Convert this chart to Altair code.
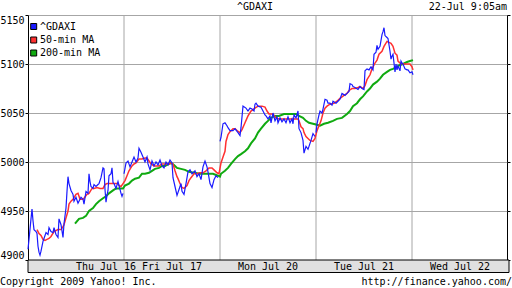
import altair as alt
import pandas as pd

# ---------------- data (bar index = 5-minute slot, 96 slots per trading day) --------------
blue_bar = [0, 1, 3, 4, 5, 6, 8, 9, 10, 11, 12, 13, 15, 16, 18, 20, 21, 23, 25, 26, 28, 30, 31, 33, 35, 36,
            38, 39, 40, 41, 43, 45, 46, 48, 50, 51, 53, 55, 56, 58, 60, 61, 62, 63, 65, 66, 68, 70, 71, 73,
            75, 76, 77, 78, 79, 80, 81, 83, 84, 85, 86, 88, 90, 91, 93, 94, 95,
            96, 98, 100, 102, 104, 106, 108, 110, 111, 112, 113, 115, 117, 119, 120, 122, 124, 126, 128,
            130, 132, 134, 136, 138, 140, 142, 144, 145, 147, 149, 151, 153, 154, 156, 158, 160, 162, 164,
            167, 169, 171, 173, 175, 177, 179, 180, 182, 184, 186, 188, 190,
            192, 193, 195, 197, 199, 200, 202, 205, 207, 210, 212, 213, 215, 218, 220, 222, 224, 226, 227,
            228, 230, 233, 235, 237, 238, 240, 242, 243, 245, 247, 249, 250, 252, 254, 256, 258, 260, 262,
            264, 265, 266, 268, 270, 271, 273, 275, 276, 278, 280, 281, 283, 285, 287,
            288, 289, 291, 292, 294, 295, 297, 299, 300, 302, 304, 305, 308, 310, 312, 314, 317, 319, 321,
            322, 324, 325, 327, 330, 332, 334, 336, 337, 339, 341, 343, 345, 346, 348, 349, 350, 352, 354,
            355, 356, 357, 359, 360, 362, 363, 364, 365, 367, 368, 369, 370, 372, 373, 374, 375, 377, 379,
            380, 382, 384, 385]
blue_val = [4911, 4921, 4942, 4952, 4940, 4931, 4929, 4927, 4914, 4908, 4905, 4909, 4919, 4922, 4928, 4926,
            4933, 4929, 4928, 4933, 4926, 4923, 4942, 4936, 4923, 4937, 4953, 4970, 4985, 4978, 4971, 4967,
            4960, 4964, 4958, 4960, 4964, 4962, 4957, 4970, 4968, 4988, 4980, 4975, 4973, 4977, 4975, 4977,
            4978, 4984, 4994, 4993, 4972, 4959, 4966, 4971, 4986, 4988, 4994, 4979, 4978, 4973, 4980, 4976,
            4968, 4965, 4968,
            4988, 4999, 5001, 4995, 5000, 5005, 5000, 5004, 5014, 5012, 5010, 5005, 5000, 5005, 4998, 4992,
            5001, 4996, 5000, 4997, 5002, 4996, 4994, 5000, 4997, 5002, 4999, 4984, 4975, 4966, 4972, 4978,
            4970, 4967, 4978, 4990, 4992, 4988, 4991, 4985, 4988, 4982, 4995, 5001, 4995, 4990, 4978, 4974,
            4982, 4986, 4984,
            5021, 5025, 5039, 5040, 5037, 5035, 5032, 5032, 5034, 5030, 5027, 5035, 5057, 5055, 5052, 5055,
            5054, 5052, 5059, 5060, 5057, 5056, 5052, 5048, 5047, 5044, 5047, 5040, 5050, 5042, 5046, 5040,
            5045, 5041, 5044, 5040, 5046, 5040, 5044, 5039, 5048, 5045, 5052, 5034, 5030, 5022, 5009, 5016,
            5013, 5016, 5022, 5029, 5026,
            5030, 5039, 5048, 5052, 5050, 5054, 5064, 5063, 5060, 5060, 5058, 5062, 5060, 5062, 5064, 5070,
            5068, 5070, 5072, 5080, 5079, 5077, 5076, 5074, 5077, 5075, 5074, 5093, 5095, 5094, 5097, 5094,
            5110, 5112, 5119, 5115, 5118, 5130, 5133, 5137, 5129, 5127, 5126, 5113, 5105, 5108, 5110, 5092,
            5100, 5094, 5098, 5093, 5103, 5101, 5100, 5095, 5094, 5094, 5091, 5092, 5089]

red_bar = [9, 11, 13, 15, 17, 19, 21, 23, 26, 30, 33, 35, 36, 38, 40, 41, 43, 45, 48, 50, 52, 55, 56, 59,
           61, 64, 66, 69, 72, 75, 77, 79, 82, 86, 90, 91, 93, 95, 97, 99, 101, 104, 106, 108, 111, 114,
           117, 119, 121, 123, 126, 131, 134, 137, 141, 143, 145, 147, 149, 150, 152, 154, 156, 159, 161,
           163, 166, 169, 172, 175, 178, 181, 184, 186, 189, 191, 193, 195, 197, 198, 200, 202, 205, 207,
           209, 212, 214, 217, 220, 223, 227, 230, 234, 237, 239, 241, 245, 248, 251, 258, 265, 270, 271,
           273, 275, 276, 278, 280, 282, 285, 287, 289, 291, 293, 295, 297, 299, 302, 306, 309, 312, 316,
           319, 321, 324, 327, 330, 332, 335, 337, 339, 342, 344, 347, 349, 351, 354, 356, 359, 361, 363,
           365, 367, 369, 370, 372, 375, 379, 382, 384, 385]
red_val = [4931, 4927, 4925, 4921, 4920, 4921, 4922, 4924, 4929, 4931, 4931, 4934, 4936, 4943, 4950, 4957,
           4960, 4962, 4967, 4968, 4962, 4962, 4963, 4967, 4968, 4973, 4973, 4974, 4973, 4973, 4977, 4978,
           4978, 4978, 4978, 4976, 4975, 4978, 4981, 4986, 4991, 4996, 4998, 4999, 5003, 5003, 5004, 5004,
           5001, 4998, 4996, 4996, 4998, 4998, 4998, 4999, 4998, 4991, 4985, 4983, 4978, 4974, 4973, 4976,
           4981, 4984, 4988, 4988, 4989, 4989, 4991, 4994, 4994, 4992, 4989, 4988, 4999, 5005, 5011, 5021,
           5028, 5031, 5034, 5034, 5032, 5030, 5033, 5040, 5047, 5052, 5055, 5057, 5057, 5056, 5052, 5049,
           5049, 5045, 5044, 5044, 5044, 5044, 5042, 5036, 5034, 5030, 5026, 5024, 5022, 5021, 5024, 5032,
           5037, 5042, 5050, 5055, 5057, 5059, 5060, 5062, 5065, 5068, 5070, 5073, 5075, 5075, 5076, 5077,
           5075, 5078, 5084, 5089, 5095, 5101, 5104, 5110, 5113, 5118, 5123, 5122, 5121, 5118, 5111, 5109,
           5103, 5101, 5100, 5100, 5100, 5097, 5094]

green_bar = [47, 51, 55, 58, 61, 65, 68, 71, 75, 78, 81, 85, 88, 92, 95, 97, 101, 104, 107, 111, 114, 117,
             121, 124, 127, 131, 134, 137, 141, 143, 146, 149, 153, 157, 161, 166, 172, 179, 185, 190, 192,
             193, 197, 200, 203, 207, 210, 213, 217, 220, 223, 227, 230, 233, 237, 240, 243, 247, 251, 256,
             262, 268, 271, 275, 278, 281, 285, 289, 292, 296, 300, 305, 309, 314, 319, 322, 325, 329, 332,
             335, 339, 342, 345, 349, 352, 355, 359, 362, 365, 369, 372, 375, 379, 382, 385]
green_val = [4937, 4942, 4943, 4945, 4950, 4953, 4957, 4960, 4963, 4965, 4968, 4971, 4973, 4973, 4973, 4976,
             4978, 4981, 4983, 4984, 4988, 4988, 4989, 4991, 4993, 4994, 4996, 4996, 4998, 4999, 4997, 4994,
             4993, 4992, 4990, 4989, 4988, 4988, 4988, 4986, 4985, 4988, 4991, 4994, 4998, 5003, 5006, 5008,
             5011, 5014, 5019, 5024, 5030, 5034, 5039, 5042, 5045, 5047, 5047, 5049, 5049, 5049, 5047, 5045,
             5042, 5040, 5039, 5038, 5037, 5039, 5040, 5042, 5044, 5045, 5049, 5052, 5057, 5060, 5064, 5067,
             5072, 5075, 5079, 5082, 5085, 5089, 5092, 5094, 5095, 5097, 5099, 5100, 5102, 5103, 5104]

y_ticks = [4900, 4950, 5000, 5050, 5100, 5150]
day_bounds = [96, 192, 288, 384]
day_labels = ["Thu Jul 16", "Fri Jul 17", "Mon Jul 20", "Tue Jul 21", "Wed Jul 22"]
day_label_pos = [78, 144, 240, 336, 432]
series_names = ["^GDAXI", "50-min MA", "200-min MA"]
series_colors = ["#1a1aff", "#ff3030", "#10aa10"]
series_widths = [1.2, 1.5, 2]
title_text = "^GDAXI"
stamp_text = "22-Jul 9:05am"
copyright_text = "Copyright 2009 Yahoo! Inc."
url_text = "http://finance.yahoo.com/"

FONT = "DejaVu Sans Mono"
W, H = 479, 245

# ---------------- frames --------------
df_blue = pd.DataFrame({"bar": blue_bar, "v": blue_val})
df_red = pd.DataFrame({"bar": red_bar, "v": red_val})
df_green = pd.DataFrame({"bar": green_bar, "v": green_val})

xs = alt.Scale(domain=[0, W], nice=False, zero=False)
ys = alt.Scale(domain=[y_ticks[0], y_ticks[-1]], nice=False, zero=False)

X = lambda: alt.X("bar:Q", scale=xs, axis=None)

# vertical day grid lines
vgrid = alt.Chart(pd.DataFrame({"bar": day_bounds})).mark_rule(
    color="#a6a6a6", strokeWidth=1).encode(x=X())

# left axis with horizontal grid (hosted by green line)
green = alt.Chart(df_green).mark_line(
    color=series_colors[2], strokeWidth=series_widths[2]).encode(
    x=X(),
    y=alt.Y("v:Q", scale=ys, axis=alt.Axis(
        orient="left", values=y_ticks, format="d", grid=True, gridColor="#a6a6a6", gridWidth=1,
        domain=False, ticks=True, tickSize=3, tickColor="black", labelPadding=1,
        labelFont=FONT, labelFontSize=10, labelColor="black", labelFlush=True, title=None)),
)

red = alt.Chart(df_red).mark_line(
    color=series_colors[1], strokeWidth=series_widths[1]).encode(
    x=X(), y=alt.Y("v:Q", scale=ys, axis=None))

blue = alt.Chart(df_blue).transform_calculate(
    day="floor(min(datum.bar, 383) / 96)").mark_line(
    color=series_colors[0], strokeWidth=series_widths[0]).encode(
    x=X(),
    y=alt.Y("v:Q", scale=ys, axis=alt.Axis(
        orient="right", values=y_ticks, grid=False, domain=False, labels=False,
        ticks=True, tickSize=3, tickColor="black", title=None)),
    detail="day:N")

# date band under the plot
band = alt.Chart(pd.DataFrame({"k": [0]})).mark_rect(
    fill="#e0e0e0", stroke="black", strokeWidth=1).encode(
    x=alt.value(0), x2=alt.value(W + 2), y=alt.value(H), y2=alt.value(H + 12.5))

day_text = alt.Chart(pd.DataFrame({"bar": day_label_pos, "lab": day_labels})).mark_text(
    font=FONT, fontSize=10, color="black", baseline="middle", align="center").encode(
    x=X(), y=alt.value(H + 6.5), text="lab:N")

def label(txt, x, y, align):
    return alt.Chart(pd.DataFrame({"t": [txt]})).mark_text(
        font=FONT, fontSize=10, color="black", baseline="middle", align=align).encode(
        x=alt.value(x), y=alt.value(y), text="t:N")

texts = [
    label(title_text, 227, -8, "center"),
    label(stamp_text, W, -8, "right"),
    label(copyright_text, -28, H + 22, "left"),
    label(url_text, W + 5, H + 22, "right"),
]

legend_layers = []
leg_y = [11.5, 25, 38]
for name, col, ly in zip(series_names, series_colors, leg_y):
    legend_layers.append(
        alt.Chart(pd.DataFrame({"t": [name]})).mark_square(
            size=36, filled=True, fill=col, stroke="black", strokeWidth=1, opacity=1).encode(
            x=alt.value(5.7), y=alt.value(ly)))
    legend_layers.append(label(name, 12, ly, "left"))

chart = alt.layer(
    vgrid, green, red, blue, band, day_text, *texts, *legend_layers
).resolve_axis(y="independent").properties(
    width=W, height=H,
    padding={"left": 28, "top": 15, "right": 5, "bottom": 28},
    autosize=alt.AutoSizeParams(type="none"),
    background="white",
).configure_view(stroke="black", strokeWidth=1)

chart.save("out.html", embed_options={"renderer": "svg", "actions": False})
